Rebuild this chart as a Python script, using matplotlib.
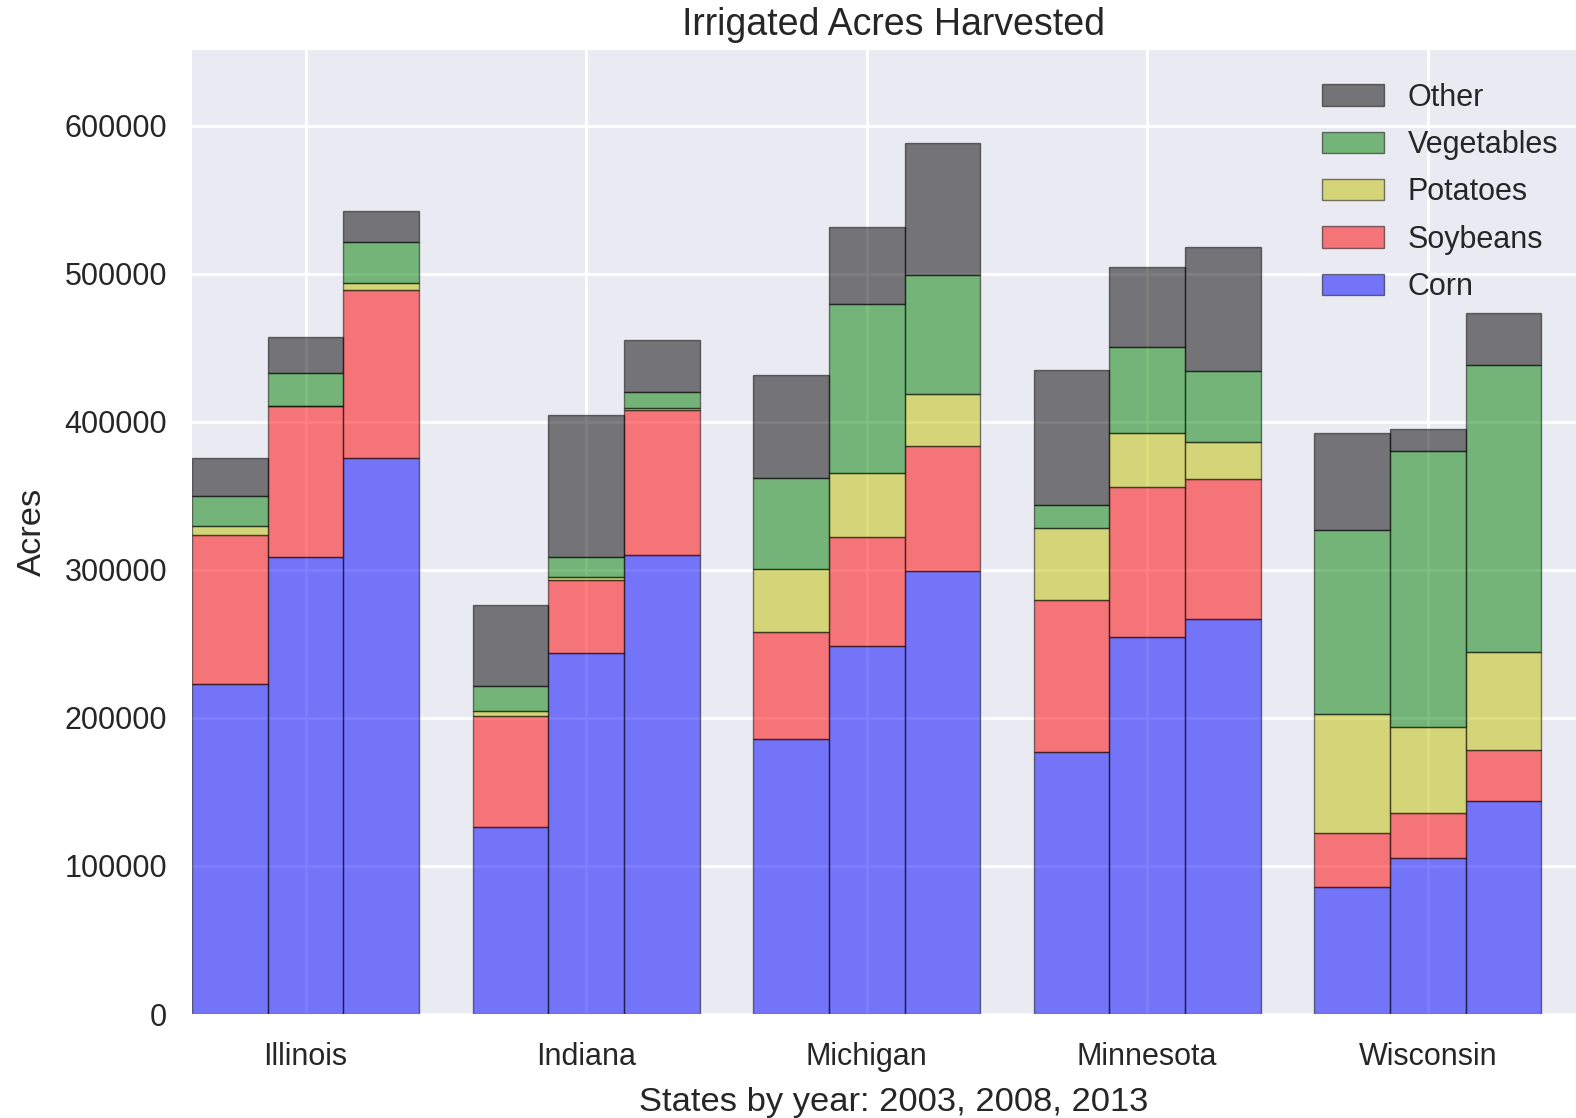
import numpy as np
import matplotlib
matplotlib.use("Agg")
import matplotlib.pyplot as plt
from matplotlib.ticker import FixedLocator, FuncFormatter

states = ['Illinois', 'Indiana', 'Michigan', 'Minnesota', 'Wisconsin']
years = ['2003', '2008', '2013']

# values per state: [2003, 2008, 2013]
corn = [[222800, 308300, 375500],
        [126100, 244100, 309900],
        [185900, 248200, 298900],
        [177000, 254700, 266700],
        [85500, 105100, 144100]]
soybeans = [[100900, 102100, 113200],
            [75300, 49200, 97800],
            [71800, 73900, 84400],
            [102300, 101300, 94900],
            [36800, 30700, 34300]]
potatoes = [[6000, 500, 5000],
            [3300, 1500, 1600],
            [43000, 43200, 35400],
            [48700, 36600, 25000],
            [80200, 57900, 66000]]
vegetables = [[20300, 21800, 27500],
              [16500, 13800, 10500],
              [61300, 114400, 80600],
              [15500, 58000, 47600],
              [124500, 186200, 194100]]
other = [[25500, 24800, 21400],
         [54700, 95700, 35200],
         [69800, 51800, 89000],
         [91600, 53800, 84000],
         [65400, 15400, 34900]]

crops = [('Corn', corn, 'b'), ('Soybeans', soybeans, 'r'),
         ('Potatoes', potatoes, 'y'), ('Vegetables', vegetables, 'g'),
         ('Other', other, 'k')]

plt.rcParams['font.family'] = ['Liberation Sans', 'DejaVu Sans']
text_color = '0.15'

W, H, DPI = 1576, 1118, 100
fig = plt.figure(figsize=(W / DPI, H / DPI), dpi=DPI)
ax = fig.add_axes([192 / W, (H - 1014) / H, (1596 - 192) / W, (1014 - 50) / H])
ax.set_facecolor('#EAEAF2')
for s in ax.spines.values():
    s.set_visible(False)
ax.set_axisbelow(True)
ax.grid(True, color='white', linewidth=2.0)

width = 0.27
n_states = len(states)
bottom = np.zeros((n_states, len(years)))
handles = []
for name, vals, col in crops:
    v = np.array(vals, dtype=float)
    for j in range(len(years)):
        xs = np.arange(n_states) + (j - 1) * width
        bars = ax.bar(xs, v[:, j], width, bottom=bottom[:, j], color=col,
                      alpha=0.5, edgecolor='k', linewidth=1.0,
                      label=name if j == 0 else None)
        if j == 0:
            handles.append(bars)
    bottom += v

ax.set_xlim(-1.5 * width, 4.6)
ax.set_ylim(0, 651000)
ax.set_xticks(np.arange(n_states))
ax.set_xticklabels(states)
ax.yaxis.set_major_locator(FixedLocator(np.arange(0, 600001, 100000)))
ax.yaxis.set_major_formatter(FuncFormatter(lambda v, p: '%d' % v))
ax.tick_params(axis='both', length=0, pad=18, labelsize=22, labelcolor=text_color)
ax.tick_params(axis='x', pad=20)

ax.set_xlabel('States by year: 2003, 2008, 2013', fontsize=24.8, color=text_color, labelpad=11)
ax.set_ylabel('Acres', fontsize=24.8, color=text_color, labelpad=12)
ax.set_title('Irrigated Acres Harvested', fontsize=27, color=text_color, pad=11)

leg = ax.legend(handles[::-1], [c[0] for c in crops][::-1], loc='upper right',
                bbox_to_anchor=(1 - 10 / 1404, 1 - 5 / 964),
                frameon=False, fontsize=22, labelspacing=0.57)
for t in leg.get_texts():
    t.set_color(text_color)

fig.savefig('out.png', dpi=DPI)
